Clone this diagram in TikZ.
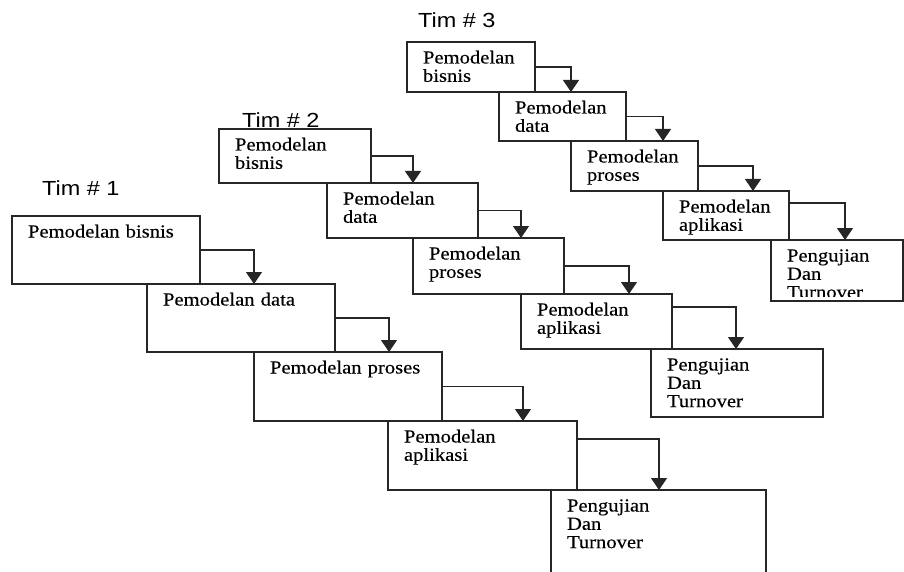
\documentclass[tikz,border=0pt]{standalone}
\usepackage{fontspec}
\setmainfont{Liberation Serif}[FakeStretch=1.12, FakeBold=0.3]
\newfontfamily\timfont{Liberation Sans}[FakeStretch=1.15]
\usetikzlibrary{arrows.meta}
\begin{document}
\begin{tikzpicture}[x=1pt,y=-1pt,
        stage/.style 2 args={draw=black!85, line width=1.5pt, anchor=north west,
            inner xsep=16pt, inner ysep=0pt, outer sep=0pt, align=left,
            text width={#1-32}, text height=21.5, text depth={#2-21.5},
            font=\fontsize{18.4}{18.3}\selectfont},
        arr/.style={draw=black!85, line width=1.3pt, -{Triangle[length=12pt,width=16pt]}},
        team/.style={anchor=base west, inner sep=0pt, font=\timfont\fontsize{20.4}{22}\selectfont}]
            \path[use as bounding box] (0,0) rectangle (904,572);
            \clip (0,0) rectangle (904,572);
            \node[team] (tim1) at (42,195.7) {Tim \# 1};
            \node[team] (tim2) at (242,128) {Tim \# 2};
            \node[team] (tim3) at (418,27.3) {Tim \# 3};
            \node[stage={188}{68}] (t1a) at (12,216) {Pemodelan bisnis};
            \node[stage={188}{68}] (t1b) at (147,284) {Pemodelan data};
            \node[stage={188}{69}] (t1c) at (254,352) {Pemodelan proses};
            \node[stage={189}{69}] (t1d) at (388,421) {Pemodelan\\aplikasi};
            \node[stage={215}{90}] (t1e) at (551,490) {Pengujian\\Dan\\Turnover};
            \node[stage={152}{54}] (t2a) at (219,129) {Pemodelan\\bisnis};
            \node[stage={151}{55}] (t2b) at (327,183) {Pemodelan\\data};
            \node[stage={151}{56}] (t2c) at (413,238) {Pemodelan\\proses};
            \node[stage={151}{55}] (t2d) at (521,294) {Pemodelan\\aplikasi};
            \node[stage={172}{68}] (t2e) at (651,349) {Pengujian\\Dan\\Turnover};
            \node[stage={128}{50}] (t3a) at (407,42) {Pemodelan\\bisnis};
            \node[stage={127}{49}] (t3b) at (499,92) {Pemodelan\\data};
            \node[stage={127}{50}] (t3c) at (571,141) {Pemodelan\\proses};
            \node[stage={126}{49}] (t3d) at (663,191) {Pemodelan\\aplikasi};
            \begin{scope}
                \clip (760,230) rectangle (904,296);
                \node[stage={132}{61}] (t3e) at (771,240) {Pengujian\\Dan\\Turnover};
            \end{scope}
            \draw[draw=black!85, line width=1.5pt] (t3e.north west) rectangle (t3e.south east);
            \draw[arr] (t1a.east) -| ([xshift=107pt]t1b.north west);
            \draw[arr] (t1b.east) -| ([xshift=135pt]t1c.north west);
            \draw[arr] (t1c.east) -| ([xshift=135pt]t1d.north west);
            \draw[arr] ([yshift=16.5pt]t1d.east) -| ([xshift=108pt]t1e.north west);
            \draw[arr] (t2a.east) -| ([xshift=86pt]t2b.north west);
            \draw[arr] (t2b.east) -| ([xshift=108pt]t2c.north west);
            \draw[arr] (t2c.east) -| ([xshift=108pt]t2d.north west);
            \draw[arr] ([yshift=14.5pt]t2d.east) -| ([xshift=85pt]t2e.north west);
            \draw[arr] (t3a.east) -| ([xshift=72pt]t3b.north west);
            \draw[arr] (t3b.east) -| ([xshift=92pt]t3c.north west);
            \draw[arr] (t3c.east) -| ([xshift=90pt]t3d.north west);
            \draw[arr] ([yshift=12.5pt]t3d.east) -| ([xshift=74pt]t3e.north west);
        \end{tikzpicture}
\end{document}
